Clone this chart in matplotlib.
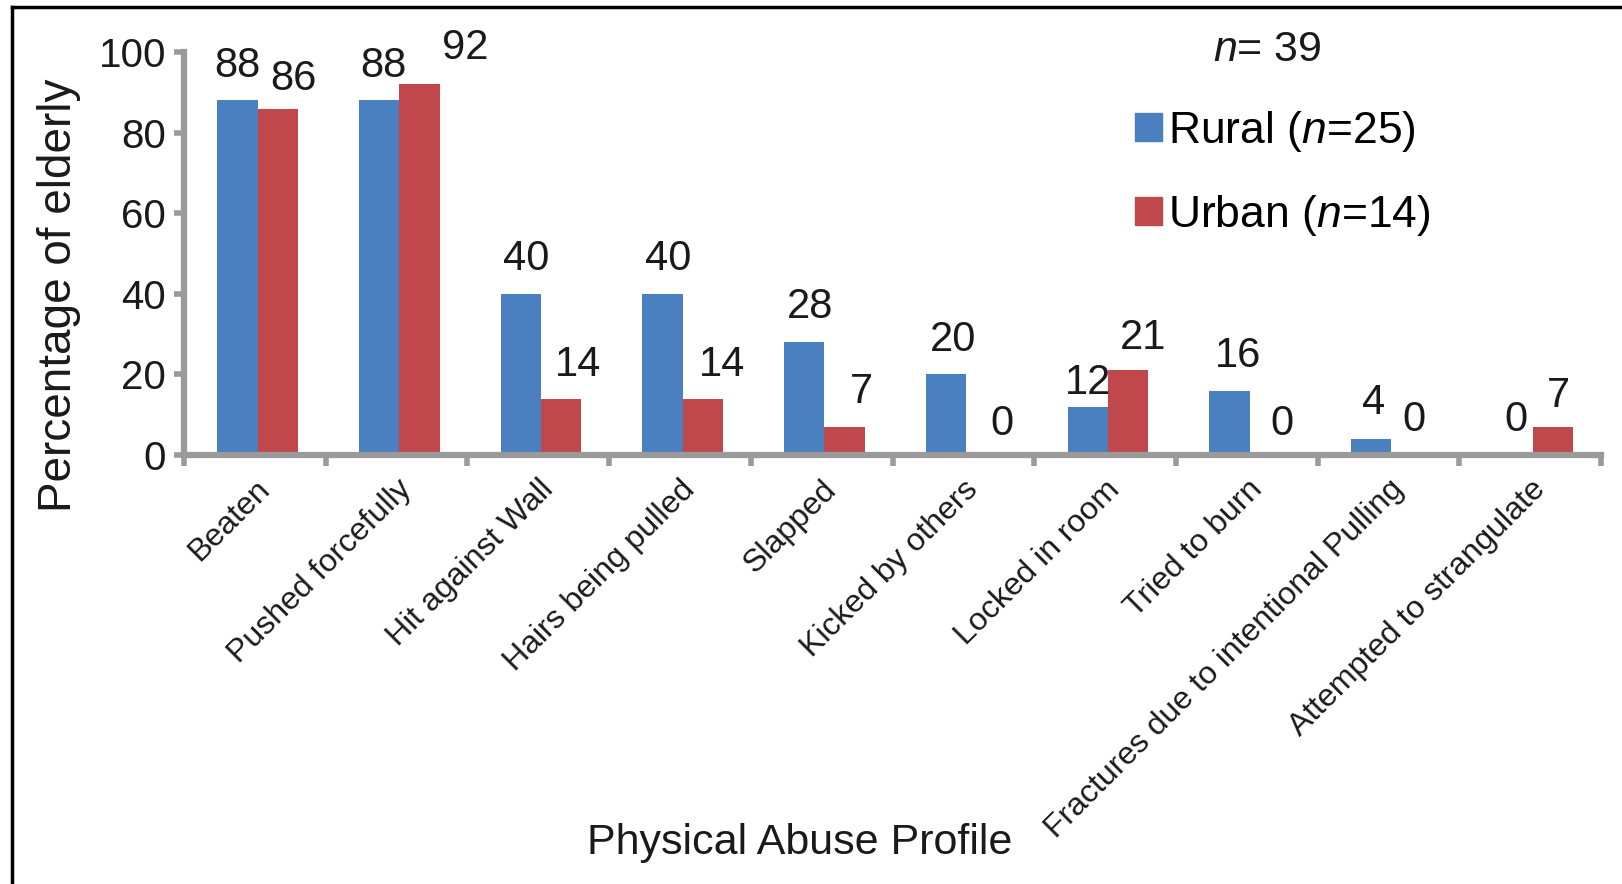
import matplotlib.pyplot as plt
import numpy as np
from matplotlib.patches import Patch
from matplotlib.lines import Line2D

plt.rcParams['font.family'] = ['Liberation Sans', 'DejaVu Sans']
plt.rcParams['mathtext.fontset'] = 'custom'
plt.rcParams['mathtext.rm'] = 'Liberation Sans'
plt.rcParams['mathtext.it'] = 'Liberation Sans:italic'

categories = ['Beaten', 'Pushed forcefully', 'Hit against Wall', 'Hairs being pulled',
              'Slapped', 'Kicked by others', 'Locked in room', 'Tried to burn',
              'Fractures due to intentional Pulling', 'Attempted to strangulate']
rural = [88, 88, 40, 40, 28, 20, 12, 16, 4, 0]
urban = [86, 92, 14, 14, 7, 0, 21, 0, 0, 7]
yticks = [0, 20, 40, 60, 80, 100]

# label nudges (points), like the hand-moved labels in the original
rural_dx = [0, 3, 4, 4, 4, 5, 0, 6, 2, 2]
rural_dy = [25, 25, 25, 25, 25, 25, 17, 25, 26, 25]
urban_dx = [11, 33, 12, 14, 12, 11, 11, 9, 2, 4]
urban_dy = [21, 26, 24, 24, 25, 22, 23, 22, 25, 22]

blue = '#4a7fc0'
red = '#c0474c'
axis_grey = '#9a9a9a'

fig = plt.figure(figsize=(16.22, 8.84), dpi=100)
ax = fig.add_axes([0.1134, 0.4853, 0.8737, 0.4557])

x = np.arange(len(categories)) + 0.52
w = 0.285
ax.bar(x - w / 2, rural, w, color=blue)
ax.bar(x + w / 2, urban, w, color=red)

for i in range(len(categories)):
    ax.annotate(str(rural[i]), (x[i] - w / 2, rural[i]), xytext=(rural_dx[i], rural_dy[i]),
                textcoords='offset points', ha='center', va='center', fontsize=30, color='#1a1a1a')
    ax.annotate(str(urban[i]), (x[i] + w / 2, urban[i]), xytext=(urban_dx[i], urban_dy[i]),
                textcoords='offset points', ha='center', va='center', fontsize=30, color='#1a1a1a')

ax.set_xlim(0, len(categories))
ax.set_ylim(0, 100)
ax.set_yticks(yticks)
ax.set_yticklabels([str(t) for t in yticks], fontsize=29, color='#1a1a1a')
ax.tick_params(axis='y', length=7, width=4, color=axis_grey, pad=6)

ax.set_xticks(np.arange(len(categories)) + 0.5)
ax.set_xticklabels(categories, rotation=45, ha='right', va='top',
                   rotation_mode='anchor', fontsize=23, color='#1a1a1a')
ax.set_xticks(np.arange(len(categories) + 1), minor=True)
ax.tick_params(axis='x', which='major', length=0, pad=14)
ax.tick_params(axis='x', which='minor', length=8, width=4, color=axis_grey)

for s in ['top', 'right']:
    ax.spines[s].set_visible(False)
for s in ['left', 'bottom']:
    ax.spines[s].set_linewidth(4.5)
    ax.spines[s].set_color(axis_grey)

fig.text(59 / 1622, 1 - 295 / 884, 'Percentage of elderly', rotation=90,
         ha='center', va='center', fontsize=33, color='#1a1a1a')
fig.text(800 / 1622, 1 - 843 / 884, 'Physical Abuse Profile',
         ha='center', va='center', fontsize=31, color='#1a1a1a')
fig.text(1267 / 1622, 1 - 50 / 884, '$n$= 39',
         ha='center', va='center', fontsize=31, color='#1a1a1a')

handles = [Patch(color=blue), Patch(color=red)]
leg = ax.legend(handles, ['Rural ($n$=25)', 'Urban ($n$=14)'], fontsize=32,
                loc='upper left', bbox_to_anchor=(1135 / 1622, 1 - 109 / 884),
                bbox_transform=fig.transFigure, frameon=False,
                handlelength=0.6, handleheight=0.6, handletextpad=0.15,
                labelspacing=0.87, borderpad=0, borderaxespad=0)

# picture frame (left and top edges only)
fig.add_artist(Line2D([12 / 1622, 12 / 1622], [0, 1 - 7 / 884], transform=fig.transFigure,
                      color='black', linewidth=2.5))
fig.add_artist(Line2D([12 / 1622, 1], [1 - 7 / 884, 1 - 7 / 884], transform=fig.transFigure,
                      color='black', linewidth=2.5))

fig.savefig('out.png', dpi=100)
